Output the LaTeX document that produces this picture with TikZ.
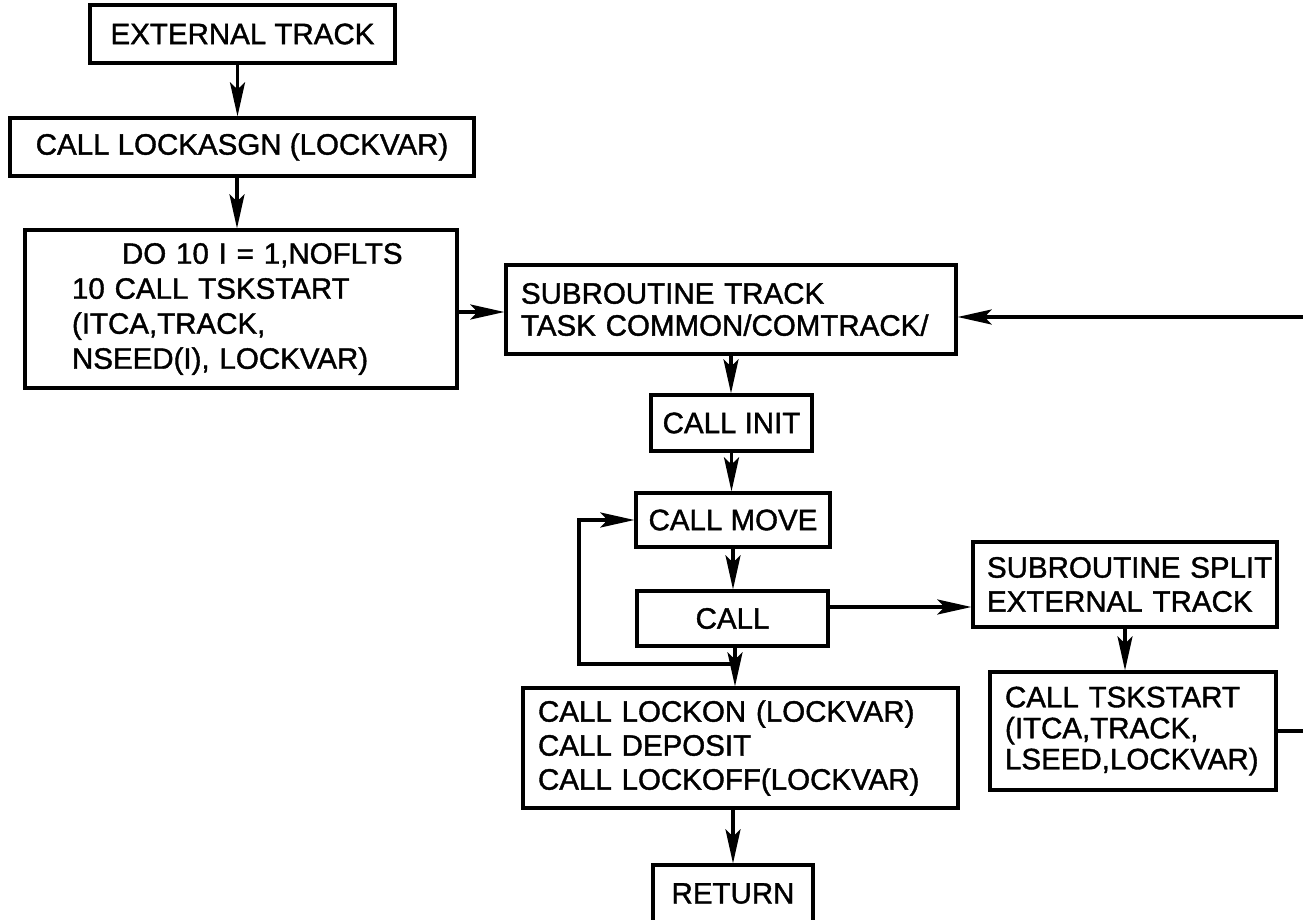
\documentclass[tikz,border=0pt]{standalone}
\usepackage{fontspec}
\setmainfont{Liberation Sans}
\newfontfamily\dfont{Liberation Sans}[FakeBold=1.3]
\usetikzlibrary{arrows.meta}
\begin{document}
\begin{tikzpicture}[x=1pt,y=-1pt,line width=3.2pt,
  box/.style={draw,rectangle,inner sep=0pt,line width=3.2pt,font=\dfont\fontsize{29.5}{34}\selectfont},
  arr/.style={-{Stealth[length=34pt,width=15pt,inset=7pt]},line width=3.2pt}]
\useasboundingbox (0,0) rectangle (1303,920);
\fill[white] (0,0) rectangle (1303,920);
\clip (0,0) rectangle (1303,920);
% nodes
\node[box,minimum width=305pt,minimum height=58pt] (ext) at (242.5,34) {EXTERNAL TRACK};
\node[box,minimum width=464pt,minimum height=58pt] (asgn) at (242,147) {CALL LOCKASGN (LOCKVAR)};
\node[box,text width=338pt,inner xsep=47pt,minimum height=158pt,align=left,font=\dfont\fontsize{29.5}{35}\selectfont] (do) at (241,309)
  {\hspace*{50pt}DO 10 I = 1,NOFLTS\\10 CALL TSKSTART\\(ITCA,TRACK,\\NSEED(I), LOCKVAR)};
\node[box,text width=420pt,inner xsep=15pt,minimum height=89pt,align=left,font=\dfont\fontsize{29.5}{32}\selectfont] (trk) at (731,309.5)
  {\mbox{SUBROUTINE TRACK}\\\mbox{TASK COMMON/COMTRACK/}};
\node[box,minimum width=161pt,minimum height=56pt] (init) at (731.5,423) {CALL INIT};
\node[box,minimum width=194pt,minimum height=54pt] (move) at (733,520) {CALL MOVE};
\node[box,minimum width=191pt,minimum height=55pt] (call) at (732.5,618.5) {CALL};
\node[box,text width=405pt,inner xsep=15pt,minimum height=120pt,align=left,font=\dfont\fontsize{29.5}{34}\selectfont] (lock) at (740.5,748)
  {\mbox{CALL LOCKON (LOCKVAR)}\\\mbox{CALL DEPOSIT}\\\mbox{CALL LOCKOFF(LOCKVAR)}};
\node[box,minimum width=160pt,minimum height=57pt] (ret) at (733,893.5) {RETURN};
\node[box,text width=276pt,inner xsep=14pt,minimum height=85pt,align=left,font=\dfont\fontsize{29.5}{34}\selectfont] (split) at (1125,584.5)
  {\mbox{SUBROUTINE SPLIT}\\\mbox{EXTERNAL TRACK}};
\node[box,text width=256pt,inner xsep=15pt,minimum height=118pt,align=left,font=\dfont\fontsize{29.5}{31}\selectfont] (tsk) at (1133,731)
  {\mbox{CALL TSKSTART}\\\mbox{(ITCA,TRACK,}\\\mbox{LSEED,LOCKVAR)}};
% connectors
\coordinate (a1) at ([xshift=-5pt]ext.south);
\draw[arr] (a1) -- (a1 |- asgn.north);
\coordinate (a2) at ([xshift=-5pt]asgn.south);
\draw[arr] (a2) -- (a2 |- do.north);
\coordinate (a3) at ([yshift=-3pt]do.east);
\draw[arr] (a3) -- (a3 -| trk.west);
\coordinate (rin) at (1303,317);
\draw[arr] (rin) -- (rin -| trk.east);
\draw[arr] (trk.south) -- (trk.south |- init.north);
\draw[arr] (init.south) -- (init.south |- move.north);
\draw[arr] (move.south) -- (move.south |- call.north);
\coordinate (c2) at ([xshift=2.5pt]call.south);
\draw[arr] (c2) -- (c2 |- lock.north);
\coordinate (lx) at (579,664);
\draw[arr] (c2 |- lx) -- (lx) |- (move.west);
\coordinate (c1) at ([yshift=11.5pt]call.east);
\draw[arr] (c1) -- (c1 -| split.west);
\draw[arr] (split.south) -- (split.south |- tsk.north);
\coordinate (rout) at (1303,731);
\draw (tsk.east) -- (tsk.east -| rout);
\draw[arr] (ret.north |- lock.south) -- (ret.north);
\end{tikzpicture}
\end{document}
